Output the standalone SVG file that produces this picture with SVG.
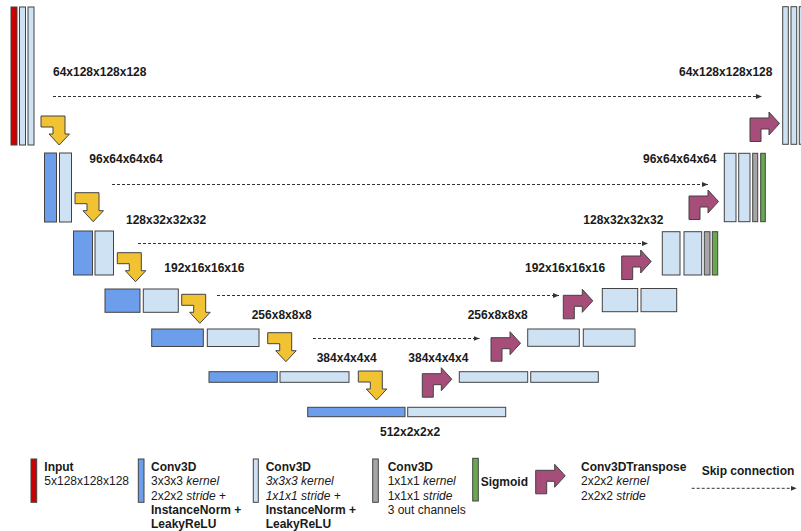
<svg xmlns="http://www.w3.org/2000/svg" width="801" height="531" viewBox="0 0 801 531">
<defs>
<style>
text{font-family:"Liberation Sans",Arial,sans-serif;font-size:12px;fill:#1a1a1a}
.b{font-weight:bold}
.i{font-style:italic}
rect{stroke:#434343;stroke-width:1}
.red{fill:#cc0000}
.blue{fill:#6d9eeb}
.lt{fill:#cfe2f3}
.gray{fill:#a6a6a6}
.green{fill:#6aa84f}
.yel{fill:#f1c232;stroke:#434343;stroke-width:1}
.pur{fill:#a64d79;stroke:#434343;stroke-width:1}
.skip{stroke:#333;stroke-width:1;stroke-dasharray:3 2;fill:none;marker-end:url(#ah)}
</style>
<marker id="ah" viewBox="0 0 6 6" refX="6" refY="3" markerWidth="6" markerHeight="6" markerUnits="userSpaceOnUse" orient="auto">
<path d="M0,0.5 L6,3 L0,5.5 Z" fill="#333"/>
</marker>
<path id="down" d="M0,0 H24 V18 H28.5 L18.2,29 L8,18 H12 V11 H0 Z"/>
<path id="up" d="M0,6 H19 V0 L29.5,11.5 L19,23 V17 H11 V29.5 H0 Z"/>
</defs>

<g id="connectors">
<line class="skip" x1="53" y1="96.5" x2="762" y2="96.5"/>
<line class="skip" x1="112" y1="184.5" x2="708" y2="184.5"/>
<line class="skip" x1="138" y1="243.5" x2="648" y2="243.5"/>
<line class="skip" x1="217" y1="295.5" x2="559" y2="295.5"/>
<line class="skip" x1="313" y1="338.5" x2="479.5" y2="338.5"/>
</g>

<g id="enc0">
<rect class="red" x="11" y="7" width="6" height="138"/>
<rect class="lt" x="19.5" y="7" width="6" height="138"/>
<rect class="lt" x="28" y="7" width="6" height="138"/>
<text class="b" x="53" y="76.3">64x128x128x128</text>
</g>
<g id="enc1">
<rect class="blue" x="44.5" y="153" width="12" height="69"/>
<rect class="lt" x="59.5" y="153" width="12" height="69"/>
<text class="b" x="89.3" y="162.5">96x64x64x64</text>
</g>
<g id="enc2">
<rect class="blue" x="73.5" y="231" width="19" height="44"/>
<rect class="lt" x="95" y="231" width="18.5" height="44"/>
<text class="b" x="126" y="224.3">128x32x32x32</text>
</g>
<g id="enc3">
<rect class="blue" x="105" y="289" width="35" height="23.3"/>
<rect class="lt" x="143.3" y="289" width="35" height="23.3"/>
<text class="b" x="164.3" y="272">192x16x16x16</text>
</g>
<g id="enc4">
<rect class="blue" x="151.7" y="329" width="51.6" height="17.5"/>
<rect class="lt" x="207.3" y="329" width="51.7" height="17.5"/>
<text class="b" x="251.7" y="319.3">256x8x8x8</text>
</g>
<g id="enc5">
<rect class="blue" x="209" y="371.7" width="68.3" height="10.6"/>
<rect class="lt" x="280" y="371.7" width="69" height="10.6"/>
<text class="b" x="316.7" y="361.6">384x4x4x4</text>
</g>
<g id="bottleneck">
<rect class="blue" x="307.7" y="407.3" width="97.3" height="9.4"/>
<rect class="lt" x="407.7" y="407.3" width="98" height="9.4"/>
<text class="b" x="380" y="436">512x2x2x2</text>
</g>

<g id="dec5">
<rect class="lt" x="459.3" y="371.7" width="68.4" height="10.6"/>
<rect class="lt" x="530.7" y="371.7" width="67.6" height="10.6"/>
<text class="b" x="408.3" y="361.6">384x4x4x4</text>
</g>
<g id="dec4">
<rect class="lt" x="527.7" y="329" width="51.6" height="17.3"/>
<rect class="lt" x="583.3" y="329" width="51.7" height="17.3"/>
<text class="b" x="467.7" y="319.3">256x8x8x8</text>
</g>
<g id="dec3">
<rect class="lt" x="602.3" y="288.5" width="35.4" height="23.2"/>
<rect class="lt" x="641" y="288.5" width="35.7" height="23.2"/>
<text class="b" x="525" y="272">192x16x16x16</text>
</g>
<g id="dec2">
<rect class="lt" x="662.3" y="231.7" width="17.7" height="43.3"/>
<rect class="lt" x="684" y="231.7" width="17.7" height="43.3"/>
<rect class="gray" x="704.3" y="231.7" width="5.7" height="43.3"/>
<rect class="green" x="712.3" y="231.7" width="5.4" height="43.3"/>
<text class="b" x="583.3" y="224.3">128x32x32x32</text>
</g>
<g id="dec1">
<rect class="lt" x="724.3" y="153.3" width="11.7" height="68.4"/>
<rect class="lt" x="738.7" y="153.3" width="11.3" height="68.4"/>
<rect class="gray" x="752.7" y="153.3" width="5" height="68.4"/>
<rect class="green" x="760.7" y="153.3" width="4.6" height="68.4"/>
<text class="b" x="643" y="162.5">96x64x64x64</text>
</g>
<g id="dec0">
<rect class="lt" x="782.7" y="6.7" width="5.6" height="137.6"/>
<rect class="lt" x="791" y="6.7" width="5.7" height="137.6"/>
<rect class="lt" x="799.3" y="6.7" width="5.7" height="137.6"/>
<text class="b" x="679" y="76.3">64x128x128x128</text>
</g>

<g id="downsample">
<use href="#down" class="yel" x="41" y="116"/>
<use href="#down" class="yel" x="75" y="192.7"/>
<use href="#down" class="yel" x="117.3" y="252.7"/>
<use href="#down" class="yel" x="181.7" y="294.3"/>
<use href="#down" class="yel" x="267.7" y="332.7"/>
<use href="#down" class="yel" x="358.3" y="371"/>
</g>
<g id="upsample">
<use href="#up" class="pur" x="422.3" y="367.7"/>
<use href="#up" class="pur" x="491" y="331.7"/>
<use href="#up" class="pur" x="563.3" y="289.3"/>
<use href="#up" class="pur" x="621.7" y="250"/>
<use href="#up" class="pur" x="689" y="190"/>
<use href="#up" class="pur" x="750" y="112"/>
</g>

<g id="legend">
<g id="leg-input">
<rect class="red" x="31" y="459" width="5.7" height="43.3"/>
<text class="b" x="44.3" y="471">Input</text>
<text x="44.3" y="485.3">5x128x128x128</text>
</g>
<g id="leg-conv-stride2">
<rect class="blue" x="138.3" y="459" width="5.7" height="43.3"/>
<text class="b" x="151" y="471">Conv3D</text>
<text x="151" y="485.3">3x3x3 <tspan class="i">kernel</tspan></text>
<text x="151" y="499.6">2x2x2 <tspan class="i">stride</tspan> +</text>
<text class="b" x="151" y="513.9">InstanceNorm +</text>
<text class="b" x="151" y="528.2">LeakyReLU</text>
</g>
<g id="leg-conv-stride1">
<rect class="lt" x="253.3" y="459" width="5" height="43.3"/>
<text class="b" x="265.7" y="471">Conv3D</text>
<text class="i" x="265.7" y="485.3">3x3x3 kernel</text>
<text class="i" x="265.7" y="499.6">1x1x1 stride +</text>
<text class="b" x="265.7" y="513.9">InstanceNorm +</text>
<text class="b" x="265.7" y="528.2">LeakyReLU</text>
</g>
<g id="leg-conv-out">
<rect class="gray" x="372.7" y="459" width="5.6" height="43.3"/>
<text class="b" x="387.7" y="471">Conv3D</text>
<text x="387.7" y="485.3">1x1x1 <tspan class="i">kernel</tspan></text>
<text x="387.7" y="499.6">1x1x1 <tspan class="i">stride</tspan></text>
<text x="387.7" y="513.9">3 out channels</text>
</g>
<g id="leg-sigmoid">
<rect class="green" x="472.7" y="458.3" width="5.6" height="42.7"/>
<text class="b" x="480.7" y="486">Sigmoid</text>
</g>
<g id="leg-transpose">
<use href="#up" class="pur" x="535.7" y="464.3"/>
<text class="b" x="581" y="471">Conv3DTranspose</text>
<text x="581" y="485.3">2x2x2 <tspan class="i">kernel</tspan></text>
<text x="581" y="499.6">2x2x2 <tspan class="i">stride</tspan></text>
</g>
<g id="leg-skip">
<text class="b" x="701.7" y="475.3">Skip connection</text>
<line class="skip" x1="691.7" y1="488.3" x2="796.7" y2="488.3"/>
</g>
</g>
</svg>
